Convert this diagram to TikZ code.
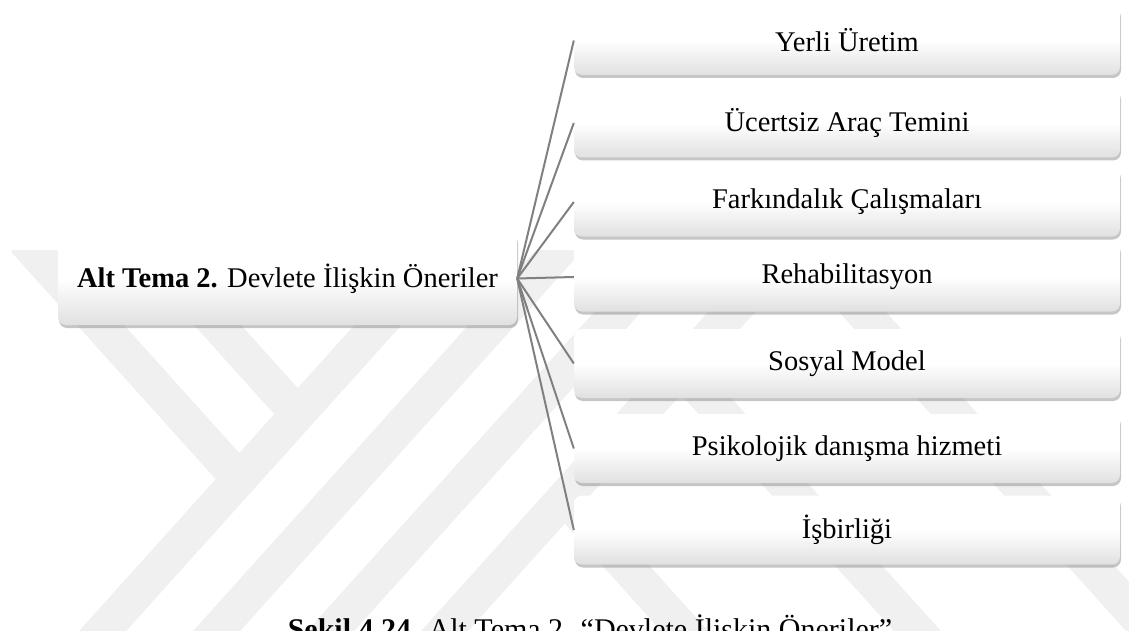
\documentclass[tikz,border=0pt]{standalone}
\usepackage{fontspec}
\setmainfont{Liberation Serif}
\usetikzlibrary{shadows}

\begin{document}
\begin{tikzpicture}[x=1pt, y=-1pt, node distance=81.6pt,
  every node/.style={align=center, font=\fontsize{28.5}{34}\selectfont},
  card/.style={rounded corners=8pt, top color=white, bottom color=black!12, middle color=white,
    drop shadow={shadow xshift=1pt, shadow yshift=-3pt, opacity=0.45}, inner sep=0pt},
  topic/.style={card, minimum width=459pt, minimum height=93pt},
  item/.style={card, minimum width=546pt, minimum height=69pt},
  link/.style={draw=black!50, line width=2pt},
  wmband/.style={draw=black!6, line width=35pt}]
\useasboundingbox (0,0) rectangle (1129,631);

% faint watermark behind the figure
\begin{scope}
\clip (0,250) rectangle (1129,631);
\draw[wmband] (76.5,660) -- (454.5,240);
\draw[wmband] (190.5,660) -- (568.5,240);
\draw[wmband] (304.5,660) -- (682.5,240);
\draw[wmband] (418.5,660) -- (796.5,240);
\draw[wmband] (24,240) -- (239.3,479.2);
\draw[wmband] (141,240) -- (297.8,414.2);
\draw[wmband] (564.8,497.6) -- (710.7,660);
\draw[wmband] (680.8,368.1) -- (943.5,660);
\draw[wmband] (797.7,240) -- (1175.7,660);
\end{scope}

\node (topic) [topic] at (287.5,278.5) {\textbf{Alt Tema 2.} Devlete İlişkin Öneriler};
\node (r1) [item] at (847,40.5) {Yerli Üretim};
\node (r2) [item, below of=r1, node distance=82.5pt] {Ücertsiz Araç Temini};
\node (r3) [item, below of=r2, node distance=79pt] {Farkındalık Çalışmaları};
\node (r4) [item, below of=r3, node distance=75pt] {Rehabilitasyon};
\node (r5) [item, below of=r4, node distance=86.5pt] {Sosyal Model};
\node (r6) [item, below of=r5, node distance=85pt] {Psikolojik danışma hizmeti};
\node (r7) [item, below of=r6, node distance=81.5pt] {İşbirliği};

\draw[link] (topic.east) -- (r1.west);
\draw[link] (topic.east) -- (r2.west);
\draw[link] (topic.east) -- (r3.west);
\draw[link] (topic.east) -- (r4.west);
\draw[link] (topic.east) -- (r5.west);
\draw[link] (topic.east) -- (r6.west);
\draw[link] (topic.east) -- (r7.west);

\node (caption) [anchor=base, font=\fontsize{30}{36}\selectfont] at (590,639) {\textbf{Şekil 4.24.} Alt Tema 2. “Devlete İlişkin Öneriler”};
\end{tikzpicture}
\end{document}
